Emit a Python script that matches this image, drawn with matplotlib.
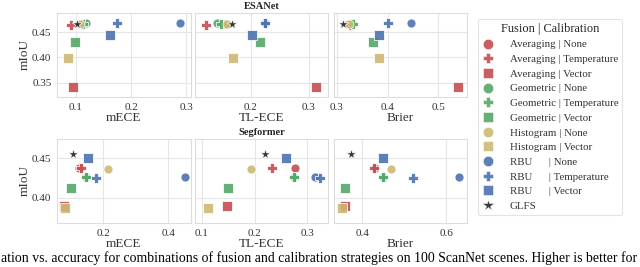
import matplotlib
matplotlib.use("Agg")
import matplotlib.pyplot as plt
import seaborn as sns
from matplotlib.lines import Line2D
from matplotlib.ticker import FormatStrFormatter

sns.set_style("whitegrid")
plt.rcParams['font.family'] = ['Liberation Serif', 'DejaVu Serif']

# fusion | calibration combinations
labels = ["Averaging | None", "Averaging | Temperature", "Averaging | Vector",
          "Geometric | None", "Geometric | Temperature", "Geometric | Vector",
          "Histogram | None", "Histogram | Vector",
          "RBU      | None", "RBU      | Temperature", "RBU      | Vector",
          "GLFS"]
red, green, yellow, blue = "#C44E52", "#55A868", "#CCB974", "#4C72B0"
colors = [red, red, red, green, green, green, yellow, yellow, blue, blue, blue, "#222222"]
markers = ["o", "P", "s", "o", "P", "s", "o", "s", "o", "P", "s", "*"]

esanet_miou = [0.466, 0.463, 0.341, 0.467, 0.466, 0.430, 0.466, 0.3995, 0.467, 0.467, 0.444, 0.465]
esanet_mece = [0.105, 0.091, 0.095, 0.118, 0.112, 0.098, 0.108, 0.086, 0.289, 0.175, 0.162, 0.102]
esanet_tlece = [0.155, 0.122, 0.313, 0.141, 0.149, 0.2155, 0.158, 0.1695, 0.224, 0.224, 0.202, 0.168]
esanet_brier = [0.322, 0.326, 0.538, 0.330, 0.333, 0.3715, 0.324, 0.3825, 0.445, 0.400, 0.3825, 0.313]

segf_miou = [0.438, 0.438, 0.390, 0.426, 0.426, 0.412, 0.436, 0.3875, 0.426, 0.425, 0.450, 0.455]
segf_mece = [0.125, 0.131, 0.079, 0.146, 0.146, 0.1006, 0.215, 0.082, 0.450, 0.1775, 0.152, 0.106]
segf_tlece = [0.276, 0.2335, 0.148, 0.275, 0.275, 0.149, 0.194, 0.1125, 0.3146, 0.324, 0.260, 0.219]
segf_brier = [0.430, 0.428, 0.3587, 0.450, 0.450, 0.3587, 0.468, 0.351, 0.632, 0.522, 0.448, 0.3723]

W, H = 640, 267
fig = plt.figure(figsize=(W / 100, H / 100), dpi=100)


def px_axes(x0, y0, x1, y1):
    return fig.add_axes([x0 / W, 1 - y1 / H, (x1 - x0) / W, (y1 - y0) / H])


cols = [(57, 191), (195, 328), (334, 467)]
rows = [(13, 97), (139, 223)]
xlabels = ["mECE", "TL-ECE", "Brier"]

panels = [
    [(esanet_mece, (0.0655, 0.309), [0.1, 0.2, 0.3]),
     (esanet_tlece, (0.1034, 0.333), [0.2, 0.3]),
     (esanet_brier, (0.2947, 0.556), [0.3, 0.4, 0.5])],
    [(segf_mece, (0.0575, 0.47), [0.2, 0.4]),
     (segf_tlece, (0.0873, 0.339), [0.1, 0.2, 0.3]),
     (segf_brier, (0.332, 0.65), [0.4, 0.6])],
]
mious = [esanet_miou, segf_miou]
ylims = [(0.322, 0.4875), (0.368, 0.4746)]
yticks = [[0.35, 0.40, 0.45], [0.40, 0.45]]
titles = ["ESANet", "Segformer"]

for r, (y0, y1) in enumerate(rows):
    for c, (x0, x1) in enumerate(cols):
        ax = px_axes(x0, y0, x1, y1)
        xs, xlim, xt = panels[r][c]
        for i in range(len(labels)):
            size = 60 if markers[i] == "*" else 42
            ax.scatter(xs[i], mious[r][i], s=size, c=colors[i], marker=markers[i],
                       edgecolors="white", linewidths=0.6, alpha=0.9, zorder=3)
        ax.set_xlim(*xlim)
        ax.set_ylim(*ylims[r])
        ax.set_xticks(xt)
        ax.set_yticks(yticks[r])
        ax.yaxis.set_major_formatter(FormatStrFormatter('%.2f'))
        ax.tick_params(labelsize=8, pad=0.5, colors="#333333")
        ax.set_xlabel(xlabels[c], fontsize=9.5, labelpad=0, color="#333333")
        for sp in ax.spines.values():
            sp.set_color("#DDDDDD")
            sp.set_linewidth(0.8)
        ax.grid(color="#E6E6E6", linewidth=0.8)
        if c == 0:
            ax.set_ylabel("mIoU", fontsize=9.5, labelpad=1, color="#333333")
        else:
            ax.set_yticklabels([])
        if c == 1:
            ax.set_title(titles[r], fontsize=7.5, fontweight="bold", pad=3)

handles = [Line2D([], [], linestyle="none", marker=markers[i], color=colors[i],
                  markersize=7.5 if markers[i] != "*" else 9, alpha=0.9,
                  markeredgecolor="white", markeredgewidth=0.4)
           for i in range(len(labels))]
leg = fig.legend(handles, labels, title="Fusion | Calibration", loc="upper left",
                 bbox_to_anchor=(478 / W, 1 - 19 / H), fontsize=7.8, title_fontsize=8.9,
                 frameon=True, labelspacing=0.47, handletextpad=1.4, borderpad=0.35,
                 handlelength=1.2, borderaxespad=0)
leg.get_frame().set_edgecolor("#DDDDDD")
leg.get_frame().set_linewidth(0.8)
for t in leg.get_texts():
    t.set_color("#333333")

fig.text(1 / W, 1 - 258 / H,
         "ation vs. accuracy for combinations of fusion and calibration strategies on 100 ScanNet scenes. Higher is better for",
         fontsize=9.9, ha="left", va="center", color="black")

fig.savefig("out.png", dpi=100)
